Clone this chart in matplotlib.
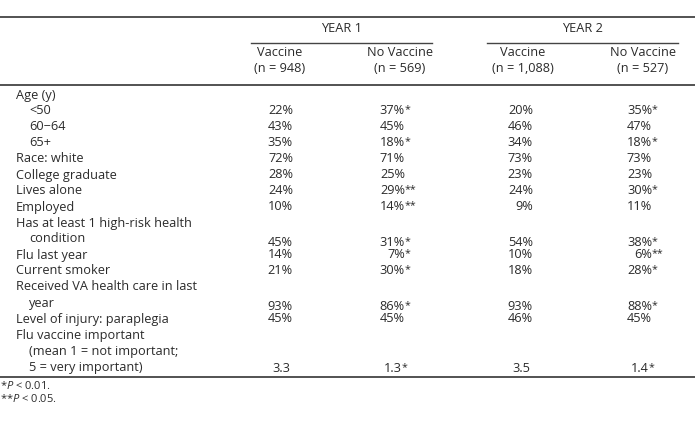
import matplotlib.pyplot as plt

plt.rcParams['font.family'] = ['Open Sans', 'DejaVu Sans']
plt.rcParams['mathtext.fontset'] = 'custom'
plt.rcParams['mathtext.rm'] = 'Open Sans'
plt.rcParams['mathtext.it'] = 'Open Sans:italic'

# row labels: (text, indent)
row_labels = [
    ("Age (y)", 0), ("<50", 1), ("60\u221264", 1), ("65+", 1),
    ("Race: white", 0), ("College graduate", 0), ("Lives alone", 0), ("Employed", 0),
    ("Has at least 1 high-risk health", 0), ("condition", 1),
    ("Flu last year", 0), ("Current smoker", 0),
    ("Received VA health care in last", 0), ("year", 1),
    ("Level of injury: paraplegia", 0),
    ("Flu vaccine important", 0), ("(mean 1 = not important;", 1), ("5 = very important)", 1),
]
# which label line each value row sits on
value_line = [1, 2, 3, 4, 5, 6, 7, 9, 10, 11, 13, 14, 17]
value_nudge = [0, 0, 0, 0, 0, 0, 0, 4, 0, 0, 4, 0, 2]

groups = ["YEAR 1", "YEAR 2"]
col_heads = ["Vaccine", "No Vaccine", "Vaccine", "No Vaccine"]
col_n = ["(n = 948)", "(n = 569)", "(n = 1,088)", "(n = 527)"]

y1_vac = ["22%", "43%", "35%", "72%", "28%", "24%", "10%", "45%", "14%", "21%", "93%", "45%", "3.3"]
y1_novac = ["37%", "45%", "18%", "71%", "25%", "29%", "14%", "31%", "7%", "30%", "86%", "45%", "1.3"]
y2_vac = ["20%", "46%", "34%", "73%", "23%", "24%", "9%", "54%", "10%", "18%", "93%", "46%", "3.5"]
y2_novac = ["35%", "47%", "18%", "73%", "23%", "30%", "11%", "38%", "6%", "28%", "88%", "45%", "1.4"]

y1_novac_sig = ["*", "", "*", "", "", "**", "**", "*", "*", "*", "*", "", "*"]
y2_novac_sig = ["*", "", "*", "", "", "*", "", "*", "**", "*", "*", "", "*"]
no_sig = [""] * 13

columns = [y1_vac, y1_novac, y2_vac, y2_novac]
sigs = [no_sig, y1_novac_sig, no_sig, y2_novac_sig]

footnotes = [r"*$\it{P}$ < 0.01.", r"**$\it{P}$ < 0.05."]

# layout (pixels)
W, H = 695, 447
tc = '#2b2b2b'
lc = '#444444'
fs = 9.2
col_center = [280, 400, 523, 643]
col_right = [293, 405, 533, 652]
group_span = [(251, 432), (487, 678)]

fig = plt.figure(figsize=(W / 100, H / 100), dpi=100)
ax = fig.add_axes([0, 0, 1, 1])
ax.set_xlim(0, W)
ax.set_ylim(H, 0)
ax.axis('off')

ax.plot([0, W], [17, 17], color=lc, lw=1.3)
ax.plot([0, W], [85, 85], color=lc, lw=1.3)
ax.plot([0, W], [377, 377], color=lc, lw=1.3)

for g, (a, b) in zip(groups, group_span):
    ax.text((a + b) / 2, 28, g, ha='center', va='center', fontsize=fs, color=tc)
    ax.plot([a, b], [43, 43], color=lc, lw=1.0)

for i in range(4):
    ax.text(col_center[i], 53, col_heads[i], ha='center', va='center', fontsize=fs, color=tc)
    ax.text(col_center[i], 68, col_n[i], ha='center', va='center', fontsize=fs, color=tc)

for i, (lab, ind) in enumerate(row_labels):
    y = 95 + 16 * i
    ax.text(16 + 13 * ind, y, lab, ha='left', va='center', fontsize=fs, color=tc)

for c in range(4):
    for r in range(len(value_line)):
        y = 95 + 16 * value_line[r] + value_nudge[r]
        v = columns[c][r]
        x = col_right[c]
        if not v.endswith('%'):
            x = x - 3
        ax.text(x, y, v, ha='right', va='center', fontsize=fs, color=tc)
        if sigs[c][r]:
            ax.text(x - 0.5, y - 1, sigs[c][r], ha='left', va='center', fontsize=fs - 1.5, color=tc)

ax.text(0, 386, footnotes[0], ha='left', va='center', fontsize=fs - 1.2, color=tc)
ax.text(0, 399, footnotes[1], ha='left', va='center', fontsize=fs - 1.2, color=tc)

fig.savefig("out.png", dpi=100)
